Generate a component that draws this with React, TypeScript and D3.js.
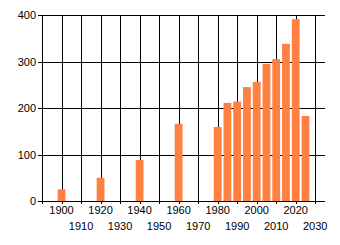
import React from "react";
import * as d3 from "d3";

const years = [1900, 1920, 1940, 1960, 1980, 1985, 1990, 1995, 2000, 2005, 2010, 2015, 2020, 2025];
const values = [25, 50, 88, 166, 159, 211, 214, 245, 256, 295, 305, 338, 391, 183];
const xTicks = [1890, 1900, 1910, 1920, 1930, 1940, 1950, 1960, 1970, 1980, 1990, 2000, 2010, 2020, 2030];
const yTicks = [0, 100, 200, 300, 400];

const W = 340, H = 245;
const left = 42, right = 325, top = 15, bottom = 201;

export default function App() {
  const x = d3.scaleLinear().domain([1890, 2035]).range([left, right]);
  const y = d3.scaleLinear().domain([0, 400]).range([bottom, top]);
  const bw = x(1902) - x(1898);
  const font = "'Liberation Sans', Arial, sans-serif";
  return (
    <svg width={W} height={H} style={{ position: "fixed", left: 0, top: 0, background: "#fff" }}
      fontFamily={font} fontSize={11}>
      <g shapeRendering="crispEdges" stroke="#000" strokeWidth={1}>
        {yTicks.map((t) => (
          <line key={"h" + t} x1={left - 4} x2={right} y1={Math.round(y(t)) + 0.5} y2={Math.round(y(t)) + 0.5} />
        ))}
        {xTicks.map((t) => (
          <line key={"v" + t} x1={Math.round(x(t)) + 0.5} x2={Math.round(x(t)) + 0.5} y1={top} y2={bottom + 3} />
        ))}
      </g>
      <g fill="#FF8040">
        {years.map((yr, i) => (
          <rect key={yr} x={x(yr) - bw / 2} width={bw} y={y(values[i])} height={y(0) - y(values[i])} />
        ))}
      </g>
      {yTicks.map((t) => (
        <text key={"yl" + t} x={left - 6} y={y(t) + 4} textAnchor="end" fill="#000">{t}</text>
      ))}
      {xTicks.filter((t) => t >= 1900).map((t) => {
        const row = ((t - 1900) / 10) % 2;
        return (
          <text key={"xl" + t} x={x(t)} y={row === 0 ? 214 : 230} textAnchor="middle" fill="#000">{t}</text>
        );
      })}
    </svg>
  );
}
